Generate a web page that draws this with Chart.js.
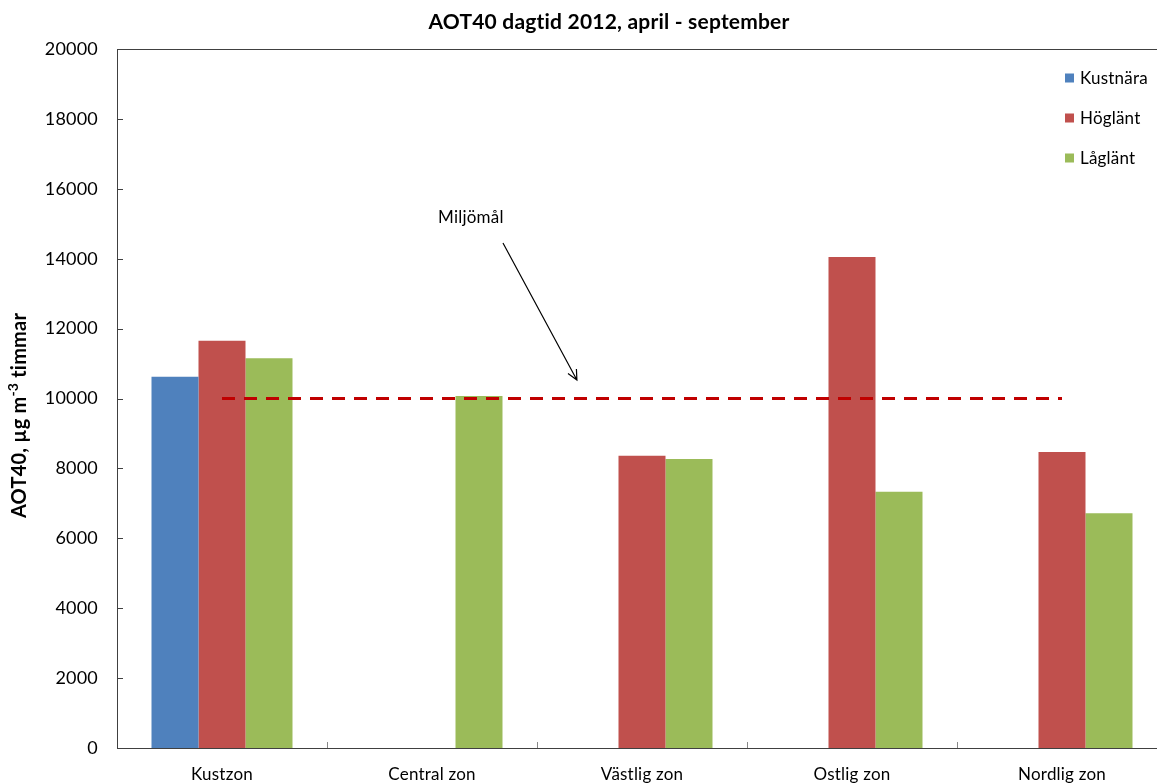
<!DOCTYPE html>
<html lang="sv">
<head>
<meta charset="utf-8">
<title>AOT40 dagtid 2012</title>
<script src="https://cdn.jsdelivr.net/npm/chart.js@4/dist/chart.umd.min.js"></script>
<style>
  html, body { margin: 0; padding: 0; background: #fff; overflow: hidden; }
  canvas { display: block; }
</style>
</head>
<body>
<canvas id="c" width="1218" height="783"></canvas>
<script>
// Zoner och mätvärden (AOT40, µg m-3 timmar)
const zones = ['Kustzon', 'Central zon', 'Västlig zon', 'Ostlig zon', 'Nordlig zon'];
const kustnara = [10620, null, null, null, null];
const hoglant  = [11650, null, 8360, 14050, 8470];
const laglant  = [11150, 10070, 8270, 7330, 6720];
const miljomal = [10000, 10000, 10000, 10000, 10000];
const yTicks = [0, 2000, 4000, 6000, 8000, 10000, 12000, 14000, 16000, 18000, 20000];

const chartTitle = 'AOT40 dagtid 2012, april - september';

// Pil och text som pekar på miljömålet, angivna i dataenheter (kategoriindex, värde)
const noteText = 'Miljömål';
const notePos = { x: 1.185, y: 15190 };
const arrowFrom = { x: 1.338, y: 14450 };
const arrowTo = { x: 1.690, y: 10530 };

const FONT = 'Lato, "Open Sans", sans-serif';
const AXIS = '#404040';

// Liten bokstavsavstånd stänger av ligaturer (t.ex. "ti")
const textPlugin = {
  id: 'noLigatures',
  beforeDraw(chart) { chart.ctx.letterSpacing = '0.2px'; }
};

// Rubrik centrerad över hela diagrammets bredd
const titlePlugin = {
  id: 'centerTitle',
  afterDraw(chart) {
    const { ctx, width } = chart;
    ctx.save();
    ctx.font = 'bold 21px ' + FONT;
    ctx.fillStyle = '#000';
    ctx.textAlign = 'center';
    ctx.textBaseline = 'middle';
    ctx.fillText(chartTitle, width / 2, 22);
    ctx.restore();
  }
};

// Ram runt diagramytan och inåtriktade skalstreck
const framePlugin = {
  id: 'frame',
  afterDraw(chart) {
    const { ctx, chartArea: a, scales: { x, y } } = chart;
    ctx.save();
    ctx.strokeStyle = AXIS;
    ctx.lineWidth = 1;
    ctx.strokeRect(Math.round(a.left) + 0.5, Math.round(a.top) + 0.5,
                   Math.round(a.right - a.left), Math.round(a.bottom - a.top));
    ctx.beginPath();
    yTicks.forEach(v => {
      const py = Math.round(y.getPixelForValue(v)) + 0.5;
      ctx.moveTo(a.left, py);
      ctx.lineTo(a.left + 6, py);
    });
    ctx.stroke();
    ctx.strokeStyle = '#888';
    ctx.beginPath();
    for (let i = 1; i < zones.length; i++) {
      const px = Math.round((x.getPixelForValue(i - 1) + x.getPixelForValue(i)) / 2) + 0.5;
      ctx.moveTo(px, a.bottom);
      ctx.lineTo(px, a.bottom - 6);
    }
    ctx.stroke();
    ctx.restore();
  }
};

// Förklaring inne i diagramytan, uppe till höger
const legendPlugin = {
  id: 'innerLegend',
  afterDraw(chart) {
    const { ctx, chartArea: a } = chart;
    const items = chart.data.datasets.filter(d => d.type !== 'line');
    ctx.save();
    ctx.font = '17px ' + FONT;
    ctx.textBaseline = 'middle';
    items.forEach((d, i) => {
      const cy = a.top + 29 + i * 40;
      const mx = a.right - 102;
      ctx.fillStyle = d.backgroundColor;
      ctx.fillRect(mx, cy - 4.5, 9, 9);
      ctx.fillStyle = '#000';
      ctx.fillText(d.label, mx + 15, cy + 1);
    });
    ctx.restore();
  }
};

// Axeltitel med upphöjd exponent
const yTitlePlugin = {
  id: 'yTitle',
  afterDraw(chart) {
    const { ctx, chartArea: a } = chart;
    const parts = [
      { t: 'AOT40, µg m', size: 20, dy: 0 },
      { t: '-3', size: 14, dy: -7 },
      { t: ' timmar', size: 20, dy: 0 }
    ];
    ctx.save();
    let total = 0;
    parts.forEach(p => { ctx.font = 'bold ' + p.size + 'px ' + FONT; p.w = ctx.measureText(p.t).width; total += p.w; });
    ctx.translate(20, (a.top + a.bottom) / 2 + 17);
    ctx.rotate(-Math.PI / 2);
    ctx.textBaseline = 'middle';
    ctx.fillStyle = '#000';
    let cx = -total / 2;
    parts.forEach(p => {
      ctx.font = 'bold ' + p.size + 'px ' + FONT;
      ctx.fillText(p.t, cx, p.dy);
      cx += p.w;
    });
    ctx.restore();
  }
};

// Pil mot miljömålslinjen
const notePlugin = {
  id: 'note',
  afterDatasetsDraw(chart) {
    const { ctx, scales: { x, y } } = chart;
    const x1 = x.getPixelForValue(arrowFrom.x), y1 = y.getPixelForValue(arrowFrom.y);
    const x2 = x.getPixelForValue(arrowTo.x), y2 = y.getPixelForValue(arrowTo.y);
    ctx.save();
    ctx.strokeStyle = '#000';
    ctx.lineWidth = 1.2;
    ctx.beginPath();
    ctx.moveTo(x1, y1);
    ctx.lineTo(x2, y2);
    const ang = Math.atan2(y2 - y1, x2 - x1);
    const L = 11, w = 0.45;
    ctx.moveTo(x2 - L * Math.cos(ang - w), y2 - L * Math.sin(ang - w));
    ctx.lineTo(x2, y2);
    ctx.lineTo(x2 - L * Math.cos(ang + w), y2 - L * Math.sin(ang + w));
    ctx.stroke();
    ctx.font = '17px ' + FONT;
    ctx.fillStyle = '#000';
    ctx.textAlign = 'center';
    ctx.textBaseline = 'middle';
    ctx.fillText(noteText, x.getPixelForValue(notePos.x), y.getPixelForValue(notePos.y));
    ctx.restore();
  }
};

new Chart(document.getElementById('c'), {
  type: 'bar',
  data: {
    labels: zones,
    datasets: [
      { type: 'line', label: 'Miljömål', data: miljomal, borderColor: '#C00000', borderWidth: 3,
        borderDash: [13, 9], pointRadius: 0, fill: false, order: 0 },
      { label: 'Kustnära', data: kustnara, backgroundColor: '#4F81BD', order: 1 },
      { label: 'Höglänt', data: hoglant, backgroundColor: '#C0504D', order: 1 },
      { label: 'Låglänt', data: laglant, backgroundColor: '#9BBB59', order: 1 }
    ]
  },
  options: {
    responsive: false,
    animation: false,
    devicePixelRatio: 1,
    categoryPercentage: 0.6714,
    barPercentage: 1,
    layout: { padding: { left: 0, right: 51, top: 49, bottom: 0 } },
    plugins: {
      legend: { display: false },
      tooltip: { enabled: false },
      title: { display: false }
    },
    scales: {
      x: {
        grid: { display: false, drawTicks: false },
        border: { display: false },
        ticks: { color: '#000', font: { family: FONT, size: 17 }, padding: 16, maxRotation: 0 },
        afterFit(s) { s.height = 35; }
      },
      y: {
        min: 0, max: 20000,
        afterBuildTicks(s) { s.ticks = yTicks.map(v => ({ value: v })); },
        grid: { display: false, drawTicks: false },
        border: { display: false },
        ticks: { color: '#000', font: { family: FONT, size: 18 }, padding: 19,
                 callback: v => String(v) },
        afterFit(s) { s.width = 117; }
      }
    }
  },
  plugins: [textPlugin, titlePlugin, framePlugin, legendPlugin, yTitlePlugin, notePlugin]
});
</script>
</body>
</html>
